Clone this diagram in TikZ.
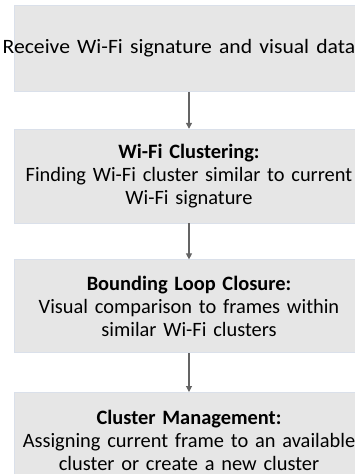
\documentclass[tikz,border=0pt]{standalone}
\usepackage{fontspec}
\setmainfont{Carlito}
\usepackage{tikz}
\usetikzlibrary{matrix,arrows.meta}

\definecolor{boxgray}{RGB}{230,230,230}
\definecolor{boxline}{RGB}{218,224,234}
\definecolor{arrowgray}{RGB}{100,100,100}

\begin{document}
\begin{tikzpicture}
  \useasboundingbox (0,0) rectangle (355pt,-474pt);
  \clip (0,0) rectangle (355pt,-474pt);
  \matrix (m) at (189pt,-5pt) [anchor=north, inner sep=0pt, matrix of nodes, row sep=36pt,
    nodes={fill=boxgray, draw=boxline, line width=0.6pt, text width=350pt,
      inner xsep=0pt, align=center, minimum height=93pt,
      font=\fontsize{20.4}{23}\selectfont}]
  {
|[minimum height=86pt]| \makebox[350pt][c]{\hspace*{-20pt}\scalebox{1.06}[1]{Receive Wi-Fi signature and visual data}} \\[1pt]
|[minimum height=94pt]| {\textbf{Wi-Fi Clustering:}\\ Finding Wi-Fi cluster similar to current\\ Wi-Fi signature} \\
{\textbf{Bounding Loop Closure:}\\ Visual comparison to frames within\\ similar Wi-Fi clusters} \\[3pt]
|[minimum height=96pt]| {\textbf{Cluster Management:}\\ Assigning current frame to an available\\ cluster or create a new cluster} \\
  };
  \path[-{Triangle[width=6pt,length=6pt]}, draw=arrowgray, fill=arrowgray, line width=1.1pt]
  (m-1-1) edge (m-2-1)
  (m-2-1) edge (m-3-1)
  (m-3-1) edge (m-4-1)
;
\end{tikzpicture}
\end{document}
